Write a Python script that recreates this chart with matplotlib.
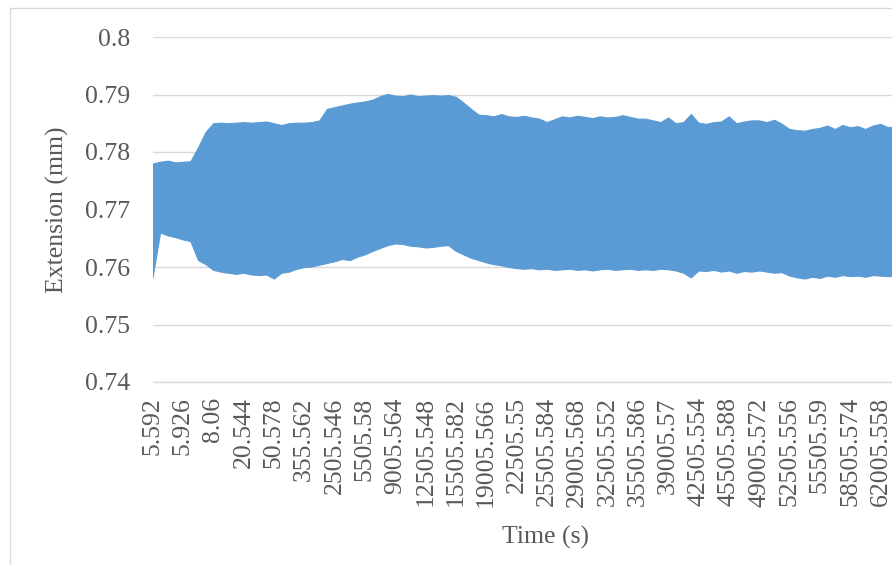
import numpy as np
import matplotlib
matplotlib.use("Agg")
import matplotlib.pyplot as plt
from matplotlib.patches import Rectangle

# Category tick labels (time, s) shown on the axis
time_labels = ["5.592", "5.926", "8.06", "20.544", "50.578", "355.562", "2505.546",
               "5505.58", "9005.564", "12505.548", "15505.582", "19005.566", "22505.55",
               "25505.584", "29005.568", "32505.552", "35505.586", "39005.57", "42505.554",
               "45505.588", "49005.572", "52505.556", "55505.59", "58505.574", "62005.558"]

# Envelope of the oscillating extension signal (mm), 4 samples per labelled interval
upper = [0.7780, 0.7783, 0.7785, 0.7782, 0.7783, 0.7784, 0.7808, 0.7835, 0.7850, 0.7851,
         0.7850, 0.7851, 0.7852, 0.7851, 0.7852, 0.7853, 0.7850, 0.7847, 0.7850, 0.7851,
         0.7851, 0.7852, 0.7855, 0.7875, 0.7878, 0.7881, 0.7884, 0.7886, 0.7888, 0.7891,
         0.7897, 0.7901, 0.7898, 0.7897, 0.7900, 0.7897, 0.7898, 0.7899, 0.7898, 0.7899,
         0.7896, 0.7886, 0.7875, 0.7865, 0.7864, 0.7862, 0.7866, 0.7862, 0.7861, 0.7863,
         0.7860, 0.7858, 0.7852, 0.7857, 0.7862, 0.7860, 0.7863, 0.7861, 0.7859, 0.7862,
         0.7860, 0.7861, 0.7864, 0.7861, 0.7858, 0.7858, 0.7855, 0.7852, 0.7860, 0.7850,
         0.7852, 0.7866, 0.7851, 0.7849, 0.7852, 0.7853, 0.7862, 0.7850, 0.7853, 0.7855,
         0.7855, 0.7852, 0.7856, 0.7849, 0.7840, 0.7838, 0.7837, 0.7840, 0.7842, 0.7846,
         0.7840, 0.7847, 0.7843, 0.7845, 0.7840, 0.7846, 0.7849, 0.7843, 0.7845, 0.7844,
         0.7845]
lower = [0.7582, 0.7660, 0.7655, 0.7652, 0.7648, 0.7645, 0.7612, 0.7605, 0.7595, 0.7592,
         0.7590, 0.7588, 0.7590, 0.7587, 0.7586, 0.7587, 0.7580, 0.7590, 0.7592, 0.7597,
         0.7600, 0.7601, 0.7604, 0.7607, 0.7610, 0.7614, 0.7612, 0.7618, 0.7622, 0.7628,
         0.7633, 0.7638, 0.7641, 0.7640, 0.7637, 0.7636, 0.7634, 0.7635, 0.7637, 0.7638,
         0.7628, 0.7622, 0.7616, 0.7612, 0.7608, 0.7605, 0.7603, 0.7600, 0.7598, 0.7597,
         0.7598, 0.7596, 0.7597, 0.7595, 0.7596, 0.7597, 0.7595, 0.7596, 0.7594, 0.7596,
         0.7597, 0.7595, 0.7596, 0.7597, 0.7595, 0.7596, 0.7595, 0.7597, 0.7596, 0.7594,
         0.7590, 0.7582, 0.7594, 0.7593, 0.7595, 0.7592, 0.7594, 0.7590, 0.7593, 0.7592,
         0.7594, 0.7592, 0.7590, 0.7591, 0.7585, 0.7582, 0.7580, 0.7583, 0.7581, 0.7585,
         0.7583, 0.7586, 0.7584, 0.7585, 0.7583, 0.7586, 0.7585, 0.7584, 0.7586, 0.7585,
         0.7586]
samples_per_label = 4
y_ticks = [0.74, 0.75, 0.76, 0.77, 0.78, 0.79, 0.8]
y_tick_labels = ["0.74", "0.75", "0.76", "0.77", "0.78", "0.79", "0.8"]

W, H = 892, 565
fig = plt.figure(figsize=(W / 100, H / 100), dpi=100)
fig.patch.set_facecolor("white")

# Chart-area border (cropped at right and bottom as in the reference)
fig.patches.append(Rectangle((10 / W, -0.1), 1.2, 1 - 8 / H + 0.1, transform=fig.transFigure,
                             fill=False, edgecolor="#D9D9D9", linewidth=1.0))

left_px, bottom_px, top_px, spacing_px = 152.5, 382, 37, 30.33
n_span = 26
ax = fig.add_axes([left_px / W, (H - bottom_px) / H, n_span * spacing_px / W,
                   (bottom_px - top_px) / H])

x = np.arange(len(upper)) / samples_per_label
ax.fill_between(x, lower, upper, color="#5B9BD5", linewidth=0.8, edgecolor="#5B9BD5", zorder=3)

ax.set_xlim(0, n_span)
ax.set_ylim(0.74, 0.8)
ax.set_yticks(y_ticks)
ax.set_yticklabels(y_tick_labels)
ax.set_xticks(np.arange(len(time_labels)))
ax.set_xticklabels(time_labels, rotation=90)

font = "Liberation Serif"
tc = "#595959"
for lab in ax.get_yticklabels() + ax.get_xticklabels():
    lab.set_fontfamily(font)
    lab.set_fontsize(18.5)
    lab.set_color(tc)
ax.tick_params(axis="y", length=0, pad=16)
ax.tick_params(axis="x", length=0, pad=11)

ax.grid(axis="y", color="#D9D9D9", linewidth=1.0, zorder=0)
ax.set_axisbelow(True)
for s in ["left", "right", "top"]:
    ax.spines[s].set_visible(False)
ax.spines["bottom"].set_color("#D9D9D9")
ax.spines["bottom"].set_linewidth(1.0)

fig.text(57 / W, 1 - 210 / H, "Extension (mm)", rotation=90, ha="center", va="center",
         fontfamily=font, fontsize=18.5, color=tc)
fig.text(546 / W, 1 - 537 / H, "Time (s)", ha="center", va="center",
         fontfamily=font, fontsize=18.5, color=tc)

fig.savefig("out.png", dpi=100)
